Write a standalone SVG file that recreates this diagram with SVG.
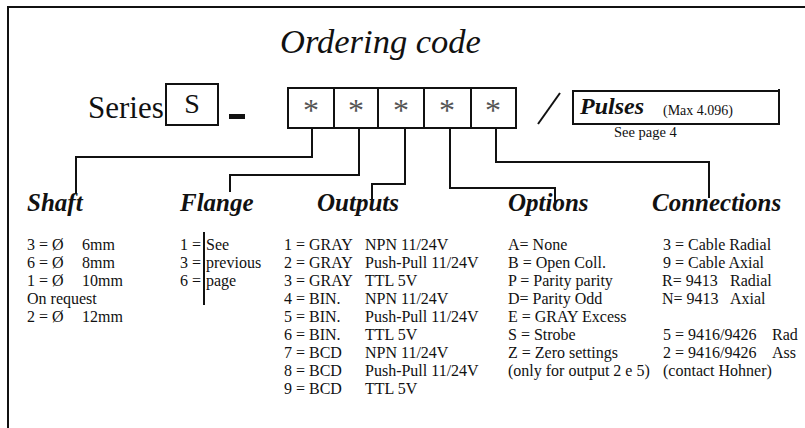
<svg xmlns="http://www.w3.org/2000/svg" width="805" height="428" viewBox="0 0 805 428">
<style>
.t{font-family:"Liberation Serif","Times New Roman",serif;fill:#111}
.b{font-size:16px}
.h{font-size:25px;font-weight:bold;font-style:italic}
.box{fill:#fff;stroke:#111;stroke-width:2}
.ln{fill:none;stroke:#111;stroke-width:2}
.star{font-family:"Liberation Serif",serif;font-size:32px;fill:#555;text-anchor:middle}
</style>
<rect width="805" height="428" fill="#fff"/>
<path class="ln" d="M8,428 V7 H805"/>

<g id="title"><text class="t" x="280" y="53" font-size="34.5" font-style="italic">Ordering code</text></g>

<g id="series">
<text class="t" x="88" y="118" font-size="31">Series</text>
<rect class="box" x="166" y="84" width="52" height="41"/>
<text class="t" x="192" y="113" font-size="28" text-anchor="middle">S</text>
<rect x="229" y="114" width="16" height="5" fill="#111"/>
</g>

<g id="code-boxes">
<rect class="box" x="288" y="88" width="46" height="40"/>
<rect class="box" x="334" y="88" width="44" height="40"/>
<rect class="box" x="378" y="88" width="46" height="40"/>
<rect class="box" x="424" y="88" width="47" height="40"/>
<rect class="box" x="471" y="88" width="45" height="40"/>
<text class="star" x="311" y="121">*</text>
<text class="star" x="356" y="121">*</text>
<text class="star" x="401" y="121">*</text>
<text class="star" x="447" y="121">*</text>
<text class="star" x="493" y="121">*</text>
</g>

<g id="pulses">
<line class="ln" x1="538" y1="124" x2="560" y2="93" stroke-width="3"/>
<rect class="box" x="573" y="91" width="206" height="33"/>
<line class="ln" x1="779" y1="89" x2="779" y2="125" stroke-width="3"/>
<text class="t" x="580" y="114" font-size="24" font-weight="bold" font-style="italic">Pulses</text>
<text class="t" x="663" y="115" font-size="14">(Max 4.096)</text>
<text class="t" x="614" y="137" font-size="14.5">See page 4</text>
</g>

<g id="connectors">
<polyline class="ln" points="312,128 312,157 76,157 76,194"/>
<polyline class="ln" points="359,128 359,175 230,175 230,192"/>
<polyline class="ln" points="405,128 405,184 372,184 372,200"/>
<polyline class="ln" points="450,128 450,188 555,188 555,202"/>
<polyline class="ln" points="496,128 496,162 709,162 709,198"/>
</g>

<g id="shaft">
<text class="t h" x="27" y="211">Shaft</text>
<text class="t b" x="27" y="250">3 = Ø</text><text class="t b" x="82" y="250">6mm</text>
<text class="t b" x="27" y="268">6 = Ø</text><text class="t b" x="82" y="268">8mm</text>
<text class="t b" x="27" y="286">1 = Ø</text><text class="t b" x="82" y="286">10mm</text>
<text class="t b" x="27" y="304">On request</text>
<text class="t b" x="27" y="322">2 = Ø</text><text class="t b" x="82" y="322">12mm</text>
</g>

<g id="flange">
<text class="t h" x="180" y="211">Flange</text>
<line class="ln" x1="204" y1="232" x2="204" y2="305"/>
<text class="t b" x="180" y="250">1 =</text><text class="t b" x="206" y="250">See</text>
<text class="t b" x="180" y="268">3 =</text><text class="t b" x="206" y="268">previous</text>
<text class="t b" x="180" y="286">6 =</text><text class="t b" x="206" y="286">page</text>
</g>

<g id="outputs">
<text class="t h" x="317" y="211">Outputs</text>
<text class="t b" x="284" y="250">1 = GRAY</text><text class="t b" x="365" y="250">NPN 11/24V</text>
<text class="t b" x="284" y="268">2 = GRAY</text><text class="t b" x="365" y="268">Push-Pull 11/24V</text>
<text class="t b" x="284" y="286">3 = GRAY</text><text class="t b" x="365" y="286">TTL 5V</text>
<text class="t b" x="284" y="304">4 = BIN.</text><text class="t b" x="365" y="304">NPN 11/24V</text>
<text class="t b" x="284" y="322">5 = BIN.</text><text class="t b" x="365" y="322">Push-Pull 11/24V</text>
<text class="t b" x="284" y="340">6 = BIN.</text><text class="t b" x="365" y="340">TTL 5V</text>
<text class="t b" x="284" y="358">7 = BCD</text><text class="t b" x="365" y="358">NPN 11/24V</text>
<text class="t b" x="284" y="376">8 = BCD</text><text class="t b" x="365" y="376">Push-Pull 11/24V</text>
<text class="t b" x="284" y="394">9 = BCD</text><text class="t b" x="365" y="394">TTL 5V</text>
</g>

<g id="options">
<text class="t h" x="508" y="211">Options</text>
<text class="t b" x="508" y="250">A= None</text>
<text class="t b" x="508" y="268">B = Open Coll.</text>
<text class="t b" x="508" y="286">P = Parity parity</text>
<text class="t b" x="508" y="304">D= Parity Odd</text>
<text class="t b" x="508" y="322">E = GRAY Excess</text>
<text class="t b" x="508" y="340">S = Strobe</text>
<text class="t b" x="508" y="358">Z = Zero settings</text>
<text class="t b" x="508" y="376">(only for output 2 e 5)</text>
</g>

<g id="connections">
<text class="t h" x="652" y="211">Connections</text>
<text class="t b" x="663" y="250">3 = Cable Radial</text>
<text class="t b" x="663" y="268">9 = Cable Axial</text>
<text class="t b" x="662" y="286">R= 9413</text><text class="t b" x="730" y="286">Radial</text>
<text class="t b" x="662" y="304">N= 9413</text><text class="t b" x="730" y="304">Axial</text>
<text class="t b" x="663" y="340">5 = 9416/9426</text><text class="t b" x="772" y="340">Rad</text>
<text class="t b" x="663" y="358">2 = 9416/9426</text><text class="t b" x="772" y="358">Ass</text>
<text class="t b" x="663" y="376">(contact Hohner)</text>
</g>
</svg>
